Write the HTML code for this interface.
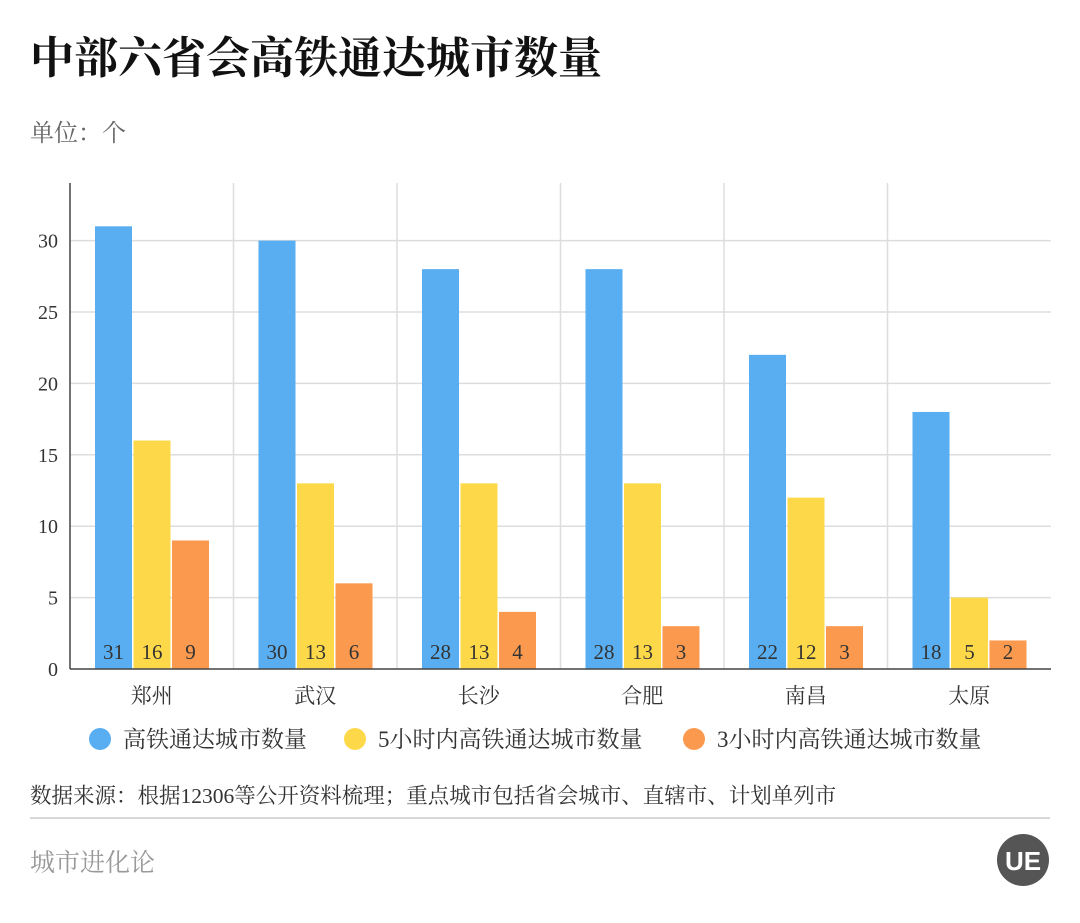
<!DOCTYPE html>
<html><head><meta charset="utf-8"><style>
body{margin:0;background:#fff;width:1080px;height:918px;overflow:hidden;font-family:"Liberation Serif","Noto Serif CJK SC",serif;}
</style></head><body>
<svg id="chart" width="1080" height="918" xmlns="http://www.w3.org/2000/svg">
<text x="30" y="73" font-size="44" font-weight="bold" fill="#111" font-family="Liberation Serif, Noto Serif CJK SC, serif">中部六省会高铁通达城市数量</text>
<text x="30" y="141" font-size="24" fill="#666" font-family="Liberation Serif, Noto Serif CJK SC, serif">单位：个</text>
<g id="grid"></g><g id="bars"></g><g id="axes"></g>
<g id="legend"></g>
<text x="30" y="803" font-size="21.5" fill="#333" font-family="Liberation Serif, Noto Serif CJK SC, serif">数据来源：根据12306等公开资料梳理；重点城市包括省会城市、直辖市、计划单列市</text>
<line x1="30" y1="818" x2="1050" y2="818" stroke="#ccc" stroke-width="1.5"/>
<text x="30" y="871" font-size="25" fill="#999" font-family="Liberation Serif, Noto Serif CJK SC, serif">城市进化论</text>
<g><circle cx="1023" cy="860" r="26" fill="#555"/><text x="1023" y="870" font-size="26" fill="#fff" text-anchor="middle" font-family="Liberation Sans, sans-serif" font-weight="bold">UE</text></g>
</svg>
<script>
const categories=["郑州","武汉","长沙","合肥","南昌","太原"];
const seriesAll=[31,30,28,28,22,18];
const series5h=[16,13,13,13,12,5];
const series3h=[9,6,4,3,3,2];
const seriesNames=["高铁通达城市数量","5小时内高铁通达城市数量","3小时内高铁通达城市数量"];
const yTicks=[0,5,10,15,20,25,30];
const colors=["#58aef0","#fdd94a","#fb9a4f"];
const NS="http://www.w3.org/2000/svg";
const x0=70,x1=1051,yZero=669,pxPer=14.28,yTop=183;
const gw=(x1-x0)/categories.length;
const y=v=>yZero-v*pxPer;
function mk(tag,attrs,parent){const e=document.createElementNS(NS,tag);for(const k in attrs)e.setAttribute(k,attrs[k]);parent.appendChild(e);return e;}
const grid=document.getElementById('grid'),bars=document.getElementById('bars'),axes=document.getElementById('axes'),legend=document.getElementById('legend');
yTicks.forEach(t=>{
 if(t>0){const l=mk('line',{x1:x0,x2:x1,y1:y(t),y2:y(t),stroke:'#ddd','stroke-width':1.5},grid);
 
 }
 const tx=mk('text',{x:58,y:y(t)+7,'font-size':20,fill:'#333','text-anchor':'end'},axes);tx.textContent=t;
 
 
});
categories.forEach((c,i)=>{
 const gx=x0+i*gw;
 if(i>0){const l=mk('line',{x1:gx,x2:gx,y1:yTop,y2:yZero,stroke:'#ddd','stroke-width':1.5},grid);
 
 }
 [seriesAll,series5h,series3h].forEach((s,j)=>{
  const bx=gx+25+j*38.5,v=s[i];
  const r=mk('rect',{x:bx,y:y(v),width:37,height:v*pxPer,fill:colors[j]},bars);
  
  
  const t=mk('text',{x:bx+18.5,y:yZero-10,'font-size':21,fill:'#333','text-anchor':'middle'},bars);t.textContent=v;
  
  
 });
 const ct=mk('text',{x:gx+gw/2,y:703,'font-size':21,fill:'#333','text-anchor':'middle'},axes);ct.textContent=c;
 
 
});
const ya=mk('line',{x1:x0,x2:x0,y1:yTop,y2:yZero,stroke:'#444','stroke-width':1.5},axes);


const xa=mk('line',{x1:x0,x2:x1,y1:yZero,y2:yZero,stroke:'#444','stroke-width':1.5},axes);


const lx=[100,355,694];
seriesNames.forEach((n,j)=>{
 const g=mk('g',{},legend);
 
 
 mk('circle',{cx:lx[j],cy:739,r:11,fill:colors[j]},g);
 const t=mk('text',{x:lx[j]+23,y:747,'font-size':23,fill:'#333'},g);t.textContent=n;
});
</script>
</body></html>
